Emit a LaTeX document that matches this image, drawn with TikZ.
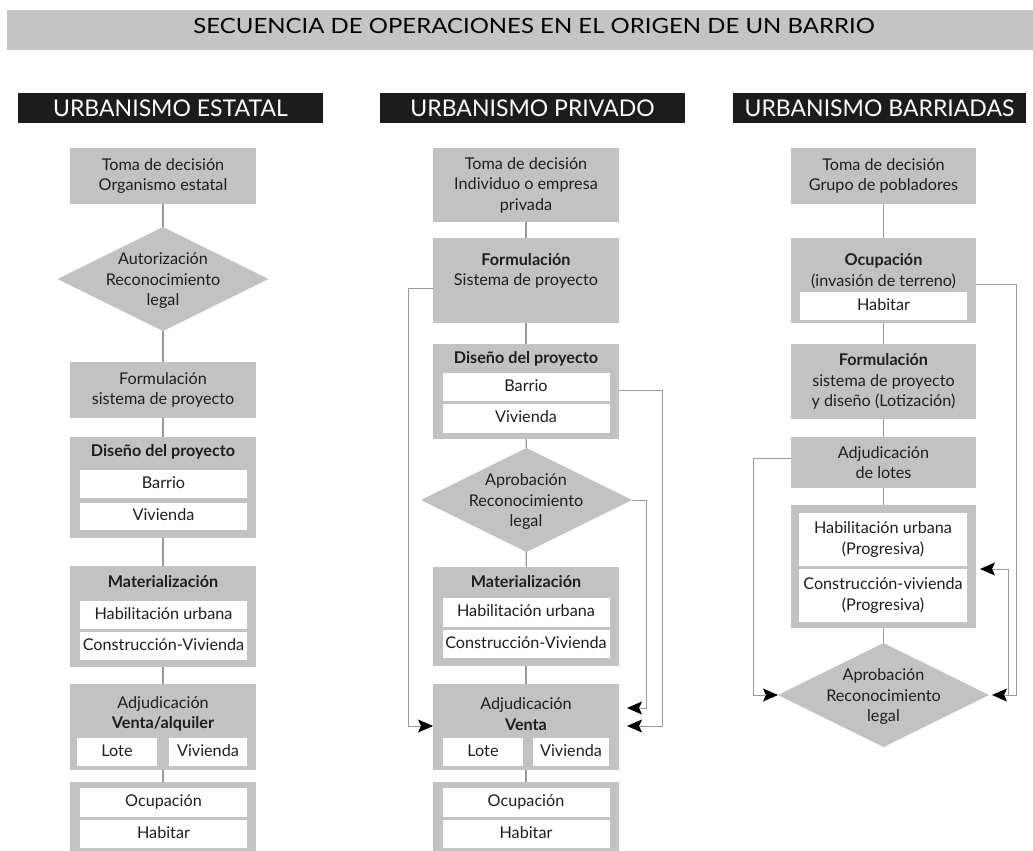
\documentclass[tikz,border=0pt]{standalone}
\usepackage{fontspec}
\setmainfont{Lato}
\usetikzlibrary{arrows.meta,shapes.geometric,calc}
\definecolor{boxgray}{HTML}{C2C2C2}
\definecolor{bargray}{HTML}{C4C4C4}
\definecolor{linegray}{HTML}{9A9A9A}
\definecolor{hdrblack}{HTML}{1C1C1C}
\definecolor{txtcol}{HTML}{1E1E1E}
\begin{document}
\begin{tikzpicture}[x=1pt,y=-1pt,
  every node/.style={font=\fontsize{16.2}{20.5}\selectfont, inner sep=0pt, outer sep=0pt, text=txtcol},
  gbox/.style={fill=boxgray, minimum width=186pt, align=center, anchor=north},
  wbox/.style={fill=white, minimum width=167pt, align=center, text height=11.5pt, text depth=3.5pt},
  wboxtwo/.style={fill=white, minimum width=168pt, align=center},
  dia/.style={diamond, fill=boxgray, minimum width=211pt, minimum height=104pt, inner sep=0pt},
  txt/.style={align=center},
  ttl/.style={anchor=mid, font=\fontsize{16.2}{20.5}\selectfont\bfseries},
  conn/.style={draw=linegray, line width=1.3pt},
  lp/.style={draw=linegray, line width=1pt},
  arr/.style={lp, -{Stealth[length=15pt,width=13pt,inset=3pt,color=black]}},
  hdr/.style={fill=hdrblack, text=white, minimum height=30pt, anchor=north west, font=\fontsize{23}{25}\selectfont},
]
\useasboundingbox (0,0) rectangle (1033,851);
\fill[white] (0,0) rectangle (1033,851);

% title
\node[fill=bargray, anchor=north west, minimum width=1026pt, minimum height=40pt] (bar) at (7,10) {};
\node[font=\fontsize{21}{24}\selectfont, text=black, anchor=mid] (title) at (534,31) {\scalebox{1.14}[1]{SECUENCIA DE OPERACIONES EN EL ORIGEN DE UN BARRIO}};

% headers
\node[hdr, minimum width=305pt] (h1) at (18,93) {URBANISMO ESTATAL};
\node[hdr, minimum width=305pt] (h2) at (380,93) {URBANISMO PRIVADO};
\node[hdr, minimum width=293pt] (h3h) at (733,93) {URBANISMO BARRIADAS};

% ---------------- column 1
\node[gbox, minimum height=56pt] (t1) at (163,148) {Toma de decisión\\Organismo estatal};
\node[dia] (d1) at (163,279) {};
\node[txt] (d1t) at (163,281) {Autorización\\Reconocimiento\\legal};
\node[gbox, minimum height=56pt] (f1) at (163,362) {Formulación\\sistema de proyecto};
\node[gbox, minimum height=101pt] (ds1) at (163,437) {};
\node[ttl] (ds1t) at (163,454) {Diseño del proyecto};
\node[wbox, minimum height=28pt] (ds1a) at (163.5,484) {Barrio};
\node[wbox, minimum height=27pt] (ds1b) at (163.5,516.5) {Vivienda};
\node[gbox, minimum height=101pt] (m1) at (163,566) {};
\node[ttl] (m1t) at (163,585) {Materialización};
\node[wbox, minimum height=28pt] (m1a) at (163.5,615) {Habilitación urbana};
\node[wbox, minimum height=28pt] (m1b) at (163.5,646) {Construcción-Vivienda};
\node[gbox, minimum height=86pt] (a1) at (163,684) {};
\node[txt] (a1t) at (163,714) {Adjudicación\\\textbf{Venta/alquiler}};
\node[wbox, minimum width=80pt, minimum height=28pt] (a1l) at (117,752) {Lote};
\node[wbox, minimum width=78pt, minimum height=28pt] (a1v) at (208,752) {Vivienda};
\node[gbox, minimum height=72pt] (o1) at (163,782) {};
\node[wbox, minimum height=29pt] (o1a) at (163.5,802.5) {Ocupación};
\node[wbox, minimum height=28pt] (o1b) at (163.5,834) {Habitar};

\draw[conn] (t1) -- (d1);
\draw[conn] (d1) -- (f1);
\draw[conn] (f1) -- (ds1);
\draw[conn] (ds1) -- (m1);
\draw[conn] (m1) -- (a1);
\draw[conn] (a1) -- (o1);

% ---------------- column 2
\node[gbox, minimum height=74pt] (t2) at (526,148) {Toma de decisión\\Individuo o empresa\\privada};
\node[gbox, minimum height=85pt] (f2) at (526,238) {};
\node[txt] (f2t) at (526,271) {\textbf{Formulación}\\Sistema de proyecto};
\node[gbox, minimum height=95pt] (ds2) at (526,344) {};
\node[ttl] (ds2t) at (526,361) {Diseño del proyecto};
\node[wbox, minimum height=28pt] (ds2a) at (526,387) {Barrio};
\node[wbox, minimum height=29pt] (ds2b) at (526,418.5) {Vivienda};
\node[dia] (d2) at (526.5,500) {};
\node[txt] (d2t) at (526,502) {Aprobación\\Reconocimiento\\legal};
\node[gbox, minimum height=99pt] (m2) at (526,567) {};
\node[ttl] (m2t) at (526,585) {Materialización};
\node[wbox, minimum height=29pt] (m2a) at (526,612.5) {Habilitación urbana};
\node[wbox, minimum height=28pt] (m2b) at (526,644) {Construcción-Vivienda};
\node[gbox, minimum height=86pt] (a2) at (526,684) {};
\node[txt] (a2t) at (526,714) {Adjudicación\\\textbf{Venta}};
\node[wbox, minimum width=80pt, minimum height=28pt] (a2l) at (483,752) {Lote};
\node[wbox, minimum width=76pt, minimum height=28pt] (a2v) at (571,752) {Vivienda};
\node[gbox, minimum height=72pt] (o2) at (526,782) {};
\node[wbox, minimum height=29pt] (o2a) at (526,802.5) {Ocupación};
\node[wbox, minimum height=28pt] (o2b) at (526,834) {Habitar};

\draw[conn] (t2) -- (f2);
\draw[conn] (f2) -- (ds2);
\draw[conn] (ds2) -- (d2);
\draw[conn] (d2) -- (m2);
\draw[conn] (m2) -- (a2);
\draw[conn] (a2) -- (o2);

\coordinate (L2) at (408,726);
\coordinate (R2) at (662,726);
\coordinate (R2b) at (646,708);
\draw[arr] ($(f2.north west)+(0,50)$) -| (L2) -- (a2.west |- L2);
\draw[arr, shorten >=8pt] ($(ds2.north east)+(0,46)$) -| (R2) -- (a2.east |- R2);
\draw[arr, shorten >=8pt] (d2.east) -| (R2b) -- (a2.east |- R2b);

% ---------------- column 3
\node[gbox, minimum width=185pt, minimum height=56pt] (t3) at (883.5,148) {Toma de decisión\\Grupo de pobladores};
\node[gbox, minimum width=185pt, minimum height=85pt] (oc3) at (883.5,238) {};
\node[txt] (oc3t) at (883.5,271) {\textbf{Ocupación}\\(invasión de terreno)};
\node[wbox, minimum height=28pt] (oc3a) at (883.5,306) {Habitar};
\node[gbox, minimum width=185pt, minimum height=75pt] (f3) at (883.5,344) {\textbf{Formulación}\\sistema de proyecto\\y diseño (Lotización)};
\node[gbox, minimum width=185pt, minimum height=51pt] (a3) at (883.5,437) {Adjudicación\\de lotes};
\node[gbox, minimum width=185pt, minimum height=123pt] (h3) at (883.5,505) {};
\node[wboxtwo, minimum height=53pt] (h3a) at (883,539.5) {Habilitación urbana\\(Progresiva)};
\node[wboxtwo, minimum height=53pt] (h3b) at (883,595.5) {Construcción-vivienda\\(Progresiva)};
\node[dia] (d3) at (883.5,695) {};
\node[txt] (d3t) at (883.5,697) {Aprobación\\Reconocimiento\\legal};

\draw[conn] (t3) -- (oc3);
\draw[conn] (oc3) -- (f3);
\draw[conn] (f3) -- (a3);
\draw[conn] (a3) -- (h3);
\draw[conn] (h3) -- (d3);

\coordinate (R3) at (1016,695);
\coordinate (L3) at (753,695);
\coordinate (J3) at (1008,695);
\draw[arr, shorten >=3pt] ($(oc3.north east)+(0,46)$) -| (R3) -- (d3.east);
\draw[arr] ($(a3.north west)+(0,21)$) -| (L3) -- (d3.west);
\draw[arr, shorten >=4pt] (J3) |- (h3.east |- h3b.north);
\end{tikzpicture}
\end{document}
